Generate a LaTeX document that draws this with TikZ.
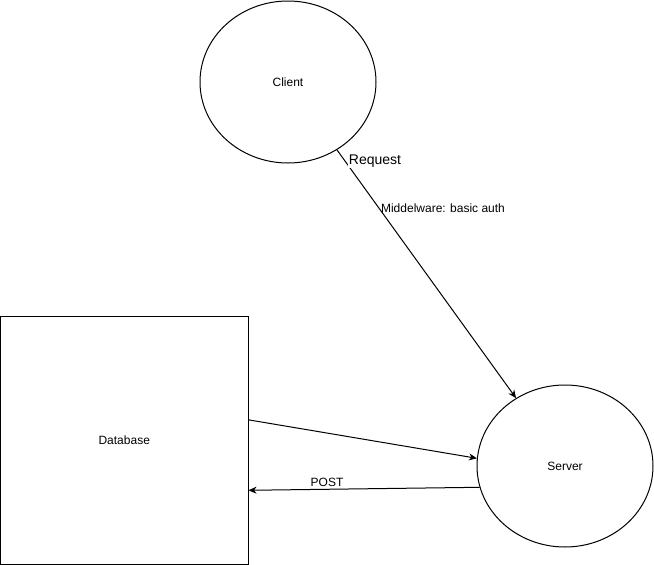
\documentclass[tikz,border=0pt]{standalone}
\usepackage{fontspec}
\setmainfont{Liberation Sans}
\usetikzlibrary{shapes.geometric,arrows.meta,calc}
\begin{document}
\begin{tikzpicture}[x=1pt,y=-1pt,
  every path/.style={line width=1pt},
  ellbox/.style={ellipse,draw,line width=1pt,minimum width=176pt,minimum height=162pt,inner sep=0pt,font=\fontsize{12}{14}\selectfont},
  rectbox/.style={rectangle,draw,line width=1pt,minimum width=247.5pt,minimum height=248pt,inner sep=0pt,font=\fontsize{12}{14}\selectfont},
  conn/.style={draw,line width=1pt,-{Stealth[length=8pt,width=7pt,inset=2.5pt]}},
  lbl/.style={font=\fontsize{12}{14}\selectfont,inner sep=1pt},
  biglbl/.style={font=\fontsize{14}{16}\selectfont,inner sep=1pt,fill=white}
]
\useasboundingbox (0,0) rectangle (654,565);
\node[ellbox] (client) at (288,82) {Client};
\node[ellbox] (server) at (565,466) {Server};
\node[rectbox] (db) at (124.25,440) {Database};

\draw[conn] (client) -- (server);
\draw[conn] ($(db.north east)!0.419!(db.south east)$) -- (server.175);
\draw[conn] (server.194) -- ($(db.north east)!0.702!(db.south east)$);

\node[biglbl] (req) at (375,161) {Request};
\node[lbl] (mid) at (443,208) {Middelware: basic auth};
\node[lbl] (post) at (327,482) {POST};
\end{tikzpicture}
\end{document}
